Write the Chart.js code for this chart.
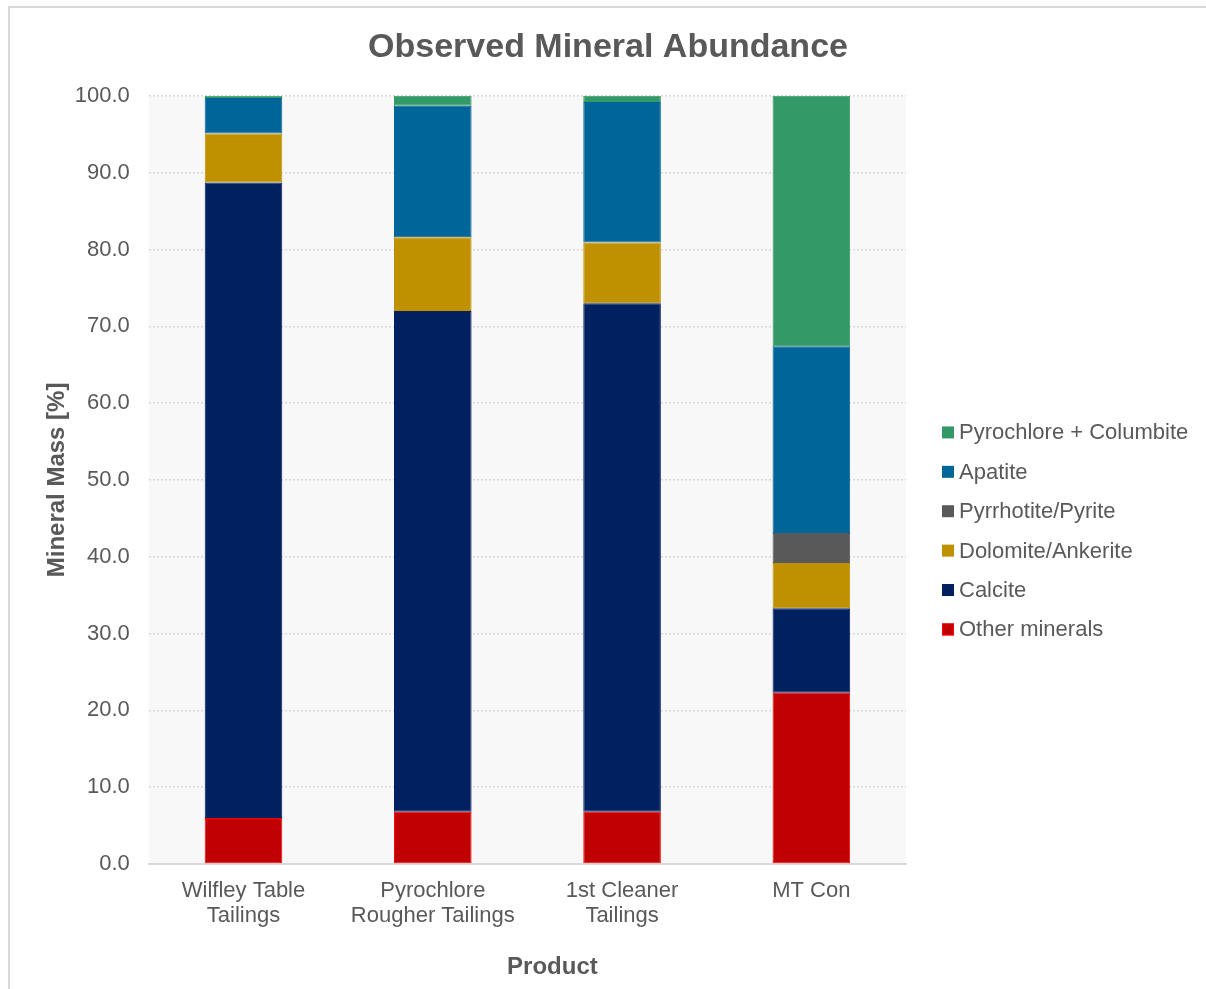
<!DOCTYPE html>
<html>
<head>
<meta charset="utf-8">
<script src="https://cdn.jsdelivr.net/npm/chart.js@4"></script>
<style>
  html, body { margin: 0; padding: 0; background: #fff; overflow: hidden; }
  #frame {
    position: absolute; left: 8px; top: 6px;
    width: 1206px; height: 989px;
    border-top: 2px solid #d9d9d9; border-left: 2px solid #d9d9d9;
  }
  #wrap { position: absolute; left: 0; top: 0; width: 1196px; height: 981px; }
</style>
</head>
<body>
<div id="frame"><div id="wrap"><canvas id="myChart"></canvas></div></div>
<script>
const products = [['Wilfley Table', 'Tailings'], ['Pyrochlore', 'Rougher Tailings'], ['1st Cleaner', 'Tailings'], 'MT Con'];

const otherMinerals = [6.0, 6.8, 6.8, 22.3];
const calcite = [82.7, 65.2, 66.2, 11.0];
const dolomiteAnkerite = [6.4, 9.6, 7.9, 5.9];
const pyrrhotitePyrite = [0, 0, 0, 3.9];
const apatite = [4.6, 17.1, 18.3, 24.3];
const pyrochloreColumbite = [0.3, 1.3, 0.8, 32.6];

const yTicks = [0, 10, 20, 30, 40, 50, 60, 70, 80, 90, 100];

const textColor = '#595959';
const fontFamily = '"Liberation Sans", Arial, sans-serif';

// light grey plot area behind the bars
const plotBackground = {
    id: 'plotBackground',
    beforeDraw(chart) {
        const a = chart.chartArea;
        const ctx = chart.ctx;
        ctx.save();
        ctx.fillStyle = '#f8f8f8';
        ctx.fillRect(a.left, a.top, a.right - a.left, a.bottom - a.top);
        ctx.restore();
    }
};

// x axis title sits a bit right of the plot centre, like the original
const xTitle = {
    id: 'xTitle',
    afterDraw(chart) {
        const a = chart.chartArea;
        const ctx = chart.ctx;
        ctx.save();
        ctx.fillStyle = textColor;
        ctx.font = 'bold 24px ' + fontFamily;
        ctx.textAlign = 'center';
        ctx.textBaseline = 'middle';
        ctx.fillText('Product', (a.left + a.right) / 2 + 25, a.bottom + 103);
        ctx.restore();
    }
};

// legend on the right, built from the datasets (top entry = top of stack)
const sideLegend = {
    id: 'sideLegend',
    afterDraw(chart) {
        const a = chart.chartArea;
        const ctx = chart.ctx;
        const sets = chart.data.datasets.slice().reverse();
        const rowGap = 39.4;
        const x = a.right + 36;
        const y0 = (a.top + a.bottom) / 2 + 51 - rowGap * (sets.length - 1) / 2;
        ctx.save();
        ctx.font = '22px ' + fontFamily;
        ctx.textAlign = 'left';
        ctx.textBaseline = 'middle';
        sets.forEach((ds, i) => {
            const y = y0 + i * rowGap;
            ctx.fillStyle = ds.backgroundColor;
            ctx.fillRect(x, y - 6, 12, 12);
            if (ds.borderColor !== ds.backgroundColor) {
                ctx.strokeStyle = ds.borderColor;
                ctx.lineWidth = 1;
                ctx.strokeRect(x + 0.5, y - 5.5, 11, 11);
            }
            ctx.fillStyle = textColor;
            ctx.fillText(ds.label, x + 17, y + 1);
        });
        ctx.restore();
    }
};

const makeSet = (label, data, color, border) => ({
    label: label,
    data: data,
    backgroundColor: color,
    borderColor: border || color,
    borderWidth: 1,
    borderSkipped: false
});

const config = {
    type: 'bar',
    data: {
        labels: products,
        datasets: [
            makeSet('Other minerals', otherMinerals, '#C00000', '#FF0000'),
            makeSet('Calcite', calcite, '#002060'),
            makeSet('Dolomite/Ankerite', dolomiteAnkerite, '#BF9000'),
            makeSet('Pyrrhotite/Pyrite', pyrrhotitePyrite, '#595959'),
            makeSet('Apatite', apatite, '#006699'),
            makeSet('Pyrochlore + Columbite', pyrochloreColumbite, '#339966')
        ]
    },
    options: {
        responsive: true,
        maintainAspectRatio: false,
        animation: false,
        layout: { padding: { left: 0, right: 0, top: 0, bottom: 6 } },
        datasets: { bar: { categoryPercentage: 1, barPercentage: 0.41 } },
        plugins: {
            title: {
                display: true,
                text: 'Observed Mineral Abundance',
                color: textColor,
                font: { family: fontFamily, size: 34, weight: 'bold' },
                padding: { top: 19, bottom: 28 }
            },
            legend: { display: false },
            tooltip: { enabled: false }
        },
        scales: {
            x: {
                stacked: true,
                grid: { display: false },
                border: { display: true, color: '#d9d9d9', width: 2 },
                ticks: {
                    color: textColor,
                    font: { family: fontFamily, size: 22, lineHeight: 1.14 },
                    padding: 6,
                    maxRotation: 0
                },
                title: {
                    display: true,
                    text: 'Product',
                    color: 'rgba(0,0,0,0)',
                    font: { family: fontFamily, size: 24, weight: 'bold' },
                    padding: { top: 20, bottom: 0 }
                }
            },
            y: {
                stacked: true,
                min: 0,
                max: 100,
                afterBuildTicks: (scale) => { scale.ticks = yTicks.map(v => ({ value: v })); },
                grid: {
                    color: '#d9d9d9',
                    lineWidth: 1.5,
                    drawTicks: false
                },
                border: { display: false, dash: [2, 2] },
                ticks: {
                    color: textColor,
                    font: { family: fontFamily, size: 22 },
                    padding: 19,
                    callback: (v) => Number(v).toFixed(1)
                },
                title: {
                    display: true,
                    text: 'Mineral Mass [%]',
                    color: textColor,
                    font: { family: fontFamily, size: 24, weight: 'bold' },
                    padding: { top: 33, bottom: -16 }
                }
            },
            // empty axis that keeps room for the legend on the right
            gap: {
                type: 'linear',
                position: 'right',
                display: true,
                grid: { display: false },
                border: { display: false },
                ticks: { display: false },
                afterFit: (scale) => { scale.width = 300; }
            }
        }
    },
    plugins: [plotBackground, xTitle, sideLegend]
};

const myChart = new Chart(document.getElementById('myChart'), config);
</script>
</body>
</html>
